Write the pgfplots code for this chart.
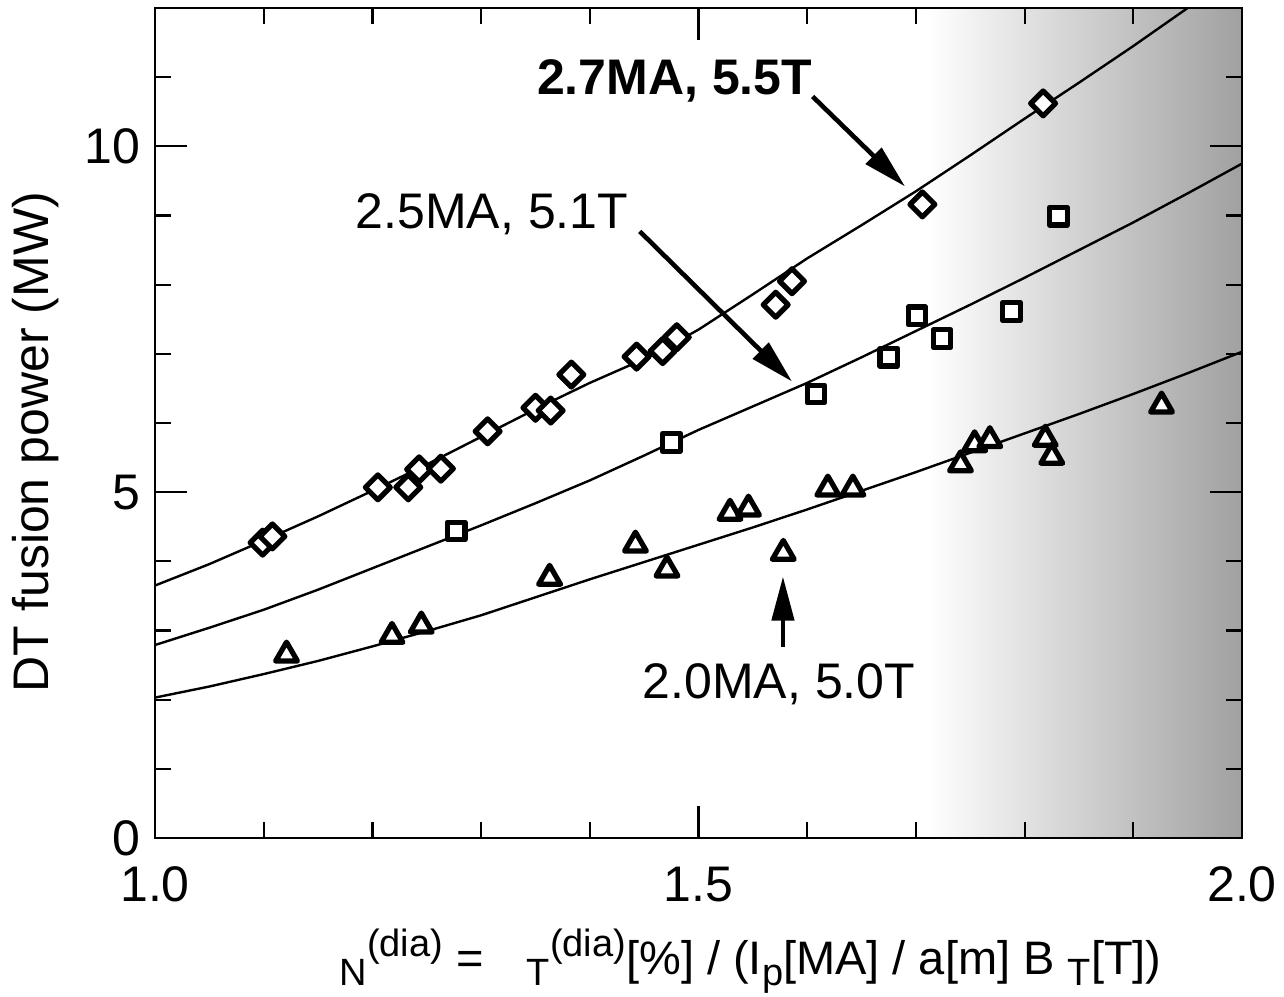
\documentclass[border=0pt]{standalone}
\usepackage{pgfplots}
\pgfplotsset{compat=1.18}
\usepackage{fontspec}
\setmainfont{Liberation Sans}
\usetikzlibrary{arrows.meta}
\newcommand{\sbx}[1]{\raisebox{-5.5pt}{\fontsize{19}{19}\selectfont #1}}
\newcommand{\spx}[1]{\raisebox{9pt}{\fontsize{19}{19}\selectfont #1}}
\begin{document}
\begin{tikzpicture}[font=\fontsize{25}{29}\selectfont]
\begin{axis}[
  width=543.5pt, height=415pt, scale only axis,
  xmin=1, xmax=2, ymin=0, ymax=12,
  xtick={1,1.5,2}, ytick={0,5,10},
  minor xtick={1.1,1.2,1.3,1.4,1.6,1.7,1.8,1.9},
  minor ytick={1,2,3,4,6,7,8,9,11},
  major tick length=16pt, minor tick length=8pt,
  every tick/.style={black, line width=1.1pt},
  axis line style={line width=1.2pt},
  /pgf/number format/assume math mode=true,
  tick label style={font=\fontsize{25}{29}\selectfont},
  xticklabel style={/pgf/number format/.cd, fixed, fixed zerofill, precision=1, /tikz/.cd, yshift=-11pt},
  yticklabel style={/pgf/number format/.cd, fixed, precision=0, /tikz/.cd, xshift=-4pt},
  axis on top,
  xlabel={\phantom{$\beta$}\sbx{N}\spx{(dia)} = \phantom{$\beta$}\sbx{T}\spx{(dia)}[\%] / (I\sbx{p}[MA] / a[m] B\ \sbx{T}[T])},
  ylabel={DT fusion power (MW)},
  xlabel style={at={(axis description cs:0.534,-0.148)}, anchor=center, font=\fontsize{23.5}{27}\selectfont},
  ylabel style={at={(axis description cs:-0.110,0.477)}, anchor=center, font=\fontsize{25}{29}\selectfont},
]
\shade[left color=white, right color=black!37] (axis cs:1.71,0) rectangle (axis cs:2,12);

% model curves
\addplot[black, line width=1.2pt, no marks] coordinates {
(1.0,3.65)(1.05,3.96)(1.1,4.30)(1.15,4.65)(1.2,5.02)(1.25,5.40)(1.3,5.80)(1.35,6.20)(1.4,6.58)(1.455,6.96)(1.5,7.35)(1.55,7.86)(1.6,8.38)(1.65,8.86)(1.7,9.35)(1.75,9.87)(1.8,10.40)(1.85,10.92)(1.9,11.45)(1.95,12.0)(2.0,12.55)};
\addplot[black, line width=1.2pt, no marks] coordinates {
(1.0,2.79)(1.05,3.04)(1.1,3.30)(1.15,3.59)(1.2,3.90)(1.25,4.21)(1.3,4.52)(1.35,4.84)(1.4,5.17)(1.45,5.53)(1.5,5.90)(1.55,6.24)(1.6,6.58)(1.65,6.95)(1.7,7.33)(1.75,7.71)(1.8,8.10)(1.85,8.50)(1.9,8.90)(1.95,9.32)(2.0,9.75)};
\addplot[black, line width=1.2pt, no marks] coordinates {
(1.0,2.03)(1.05,2.19)(1.1,2.37)(1.15,2.56)(1.2,2.77)(1.25,2.99)(1.3,3.22)(1.35,3.48)(1.4,3.74)(1.45,3.99)(1.5,4.24)(1.55,4.49)(1.6,4.75)(1.65,5.02)(1.7,5.29)(1.75,5.57)(1.8,5.85)(1.85,6.13)(1.9,6.42)(1.95,6.72)(2.0,7.03)};

% data: 2.7MA, 5.5T
\addplot[only marks, mark=square*, mark size=4.4pt,
  mark options={rotate=45, fill=white, draw=black, line width=2.6pt, line join=round}] coordinates {
(1.099,4.27)(1.108,4.36)(1.205,5.07)(1.233,5.07)(1.243,5.33)(1.263,5.34)(1.306,5.88)(1.350,6.22)(1.364,6.18)(1.383,6.70)(1.443,6.96)(1.467,7.04)(1.480,7.24)(1.571,7.71)(1.586,8.05)(1.706,9.16)(1.817,10.62)};
% data: 2.5MA, 5.1T
\addplot[only marks, mark=square*, mark size=4.4pt,
  mark options={fill=white, draw=black, line width=2.6pt, line join=round}] coordinates {
(1.277,4.44)(1.475,5.72)(1.608,6.42)(1.675,6.95)(1.701,7.55)(1.724,7.22)(1.788,7.61)(1.831,8.99)};
% data: 2.0MA, 5.0T
\addplot[only marks, mark=triangle*, mark size=6.3pt,
  mark options={fill=white, draw=black, line width=2.6pt, line join=round}] coordinates {
(1.121,2.65)(1.218,2.92)(1.245,3.07)(1.363,3.76)(1.442,4.24)(1.471,3.88)(1.529,4.70)(1.546,4.76)(1.578,4.12)(1.619,5.05)(1.642,5.05)(1.741,5.40)(1.754,5.69)(1.768,5.75)(1.819,5.77)(1.825,5.51)(1.926,6.25)};

% annotations
\draw[line width=2.3pt, -{Triangle[length=22pt, width=11pt]}] (axis cs:1.605,10.72) -- (axis cs:1.690,9.42);
\draw[line width=2.3pt, -{Triangle[length=22pt, width=11pt]}] (axis cs:1.446,8.77) -- (axis cs:1.586,6.60);
\draw[line width=2.3pt, -{Triangle[length=22pt, width=11pt]}] (axis cs:1.5777,2.76) -- (axis cs:1.5777,3.78);
\node[font=\fontsize{25}{29}\selectfont\bfseries] at (axis cs:1.478,10.95) {2.7MA, 5.5T};
\node[font=\fontsize{25}{29}\selectfont] at (axis cs:1.310,9.02) {2.5MA, 5.1T};
\node[font=\fontsize{25}{29}\selectfont] at (axis cs:1.574,2.22) {2.0MA, 5.0T};
\end{axis}
\pgfresetboundingbox
\path (-77.5pt,-79pt) rectangle (564.5pt,419pt);
\end{tikzpicture}
\end{document}
